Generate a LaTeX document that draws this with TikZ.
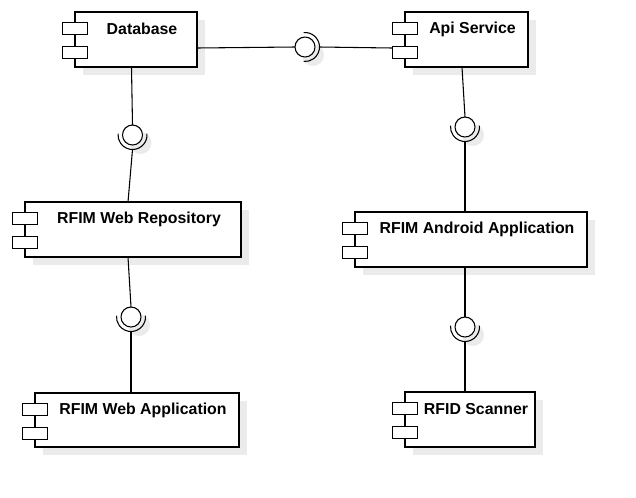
\documentclass[tikz,border=0pt]{standalone}
\usepackage{fontspec}
\setmainfont{Liberation Sans}
\tikzset{
  compbox/.style={draw=black, fill=white, line width=0.8pt, inner sep=0pt, outer sep=0pt},
  shad/.style={fill=black!8, draw=none},
  portbox/.style={draw=black, fill=white, line width=0.8pt},
  lbl/.style={font=\fontsize{11.9}{14}\selectfont\bfseries, inner sep=0pt},
  wire/.style={line width=0.8pt},
  ball/.style={circle, draw=black, fill=white, line width=0.8pt, minimum size=15pt, inner sep=0pt, outer sep=0pt},
  ballshad/.style={fill=black!8, draw=none},
}
\newcommand\mkcomp[6]{%
  \fill[shad] (#2+8,#3+8) rectangle (#4+8,#5+8);
  \node[compbox, minimum width={(#4-#2)*0.75pt}, minimum height={(#5-#3)*0.75pt}]
    (#1) at ({(#2+#4)/2},{(#3+#5)/2}) {};
  \node[portbox, minimum width=18.75pt, minimum height=9pt, inner sep=0pt, anchor=north west]
    (#1-p1) at (#2-13,#3+10) {};
  \node[portbox, minimum width=18.75pt, minimum height=9pt, inner sep=0pt, anchor=north west]
    (#1-p2) at (#2-13,#3+34) {};
  \node[lbl] (#1-t) at ({(#2+#4)/2+6},#3+17) {#6};
}
\begin{document}
\begin{tikzpicture}[x=0.75pt, y=-0.75pt]
\useasboundingbox (0,0) rectangle (636,497);

% components
\mkcomp{db}{75}{12}{197}{67}{Database}
\mkcomp{api}{405}{12}{528}{67}{Api Service}
\mkcomp{wr}{25}{202}{241}{257}{RFIM Web Repository}
\mkcomp{aa}{355}{212}{587}{267}{RFIM Android Application}
\mkcomp{wa}{35}{393}{239}{447}{RFIM Web Application}
\mkcomp{sc}{405}{392}{535}{447}{RFID Scanner}

% connector end points on the boxes
\coordinate (db-r) at (197,48);
\coordinate (db-b) at (131.5,67);
\coordinate (api-l) at (392,48);
\coordinate (api-b) at (462,67);
\coordinate (wr-t) at (128,202);
\coordinate (wr-b) at (128,257);
\coordinate (wa-t) at (131,393);
\coordinate (aa-t) at (465,212);
\coordinate (aa-b) at (465,267);
\coordinate (sc-t) at (465,392);

% interface shadows
\foreach \px/\py in {305/47, 132.5/135, 465/127, 131/317, 465/327}{
  \fill[ballshad] (\px+8,\py+8) circle[radius=11];
}

% interfaces (balls)
\node[ball] (i1) at (305,47) {};
\node[ball] (i2) at (132.5,135) {};
\node[ball] (i3) at (465,127) {};
\node[ball] (i4) at (131,317) {};
\node[ball] (i5) at (465,327) {};

% sockets
\draw[wire] (i1.center) ++(-95:14.5) arc[start angle=-95, end angle=95, radius=14.5];
\coordinate (s1) at (319.5,47);
\foreach \n/\px/\py in {2/132.5/135, 3/465/127, 4/131/317, 5/465/327}{
  \draw[wire] (\px,\py) ++(-5:14.5) arc[start angle=-5, end angle=185, radius=14.5];
  \coordinate (s\n) at (\px,\py+14.5);
}

% connectors
\draw[wire] (db-r) -- (i1.west);
\draw[wire] (s1) -- (api-l);
\draw[wire] (db-b) -- (i2.north);
\draw[wire] (s2) -- (wr-t);
\draw[wire] (api-b) -- (i3.north);
\draw[wire] (s3) -- (aa-t);
\draw[wire] (wr-b) -- (i4.north);
\draw[wire] (s4) -- (wa-t);
\draw[wire] (aa-b) -- (i5.north);
\draw[wire] (s5) -- (sc-t);
\end{tikzpicture}
\end{document}
